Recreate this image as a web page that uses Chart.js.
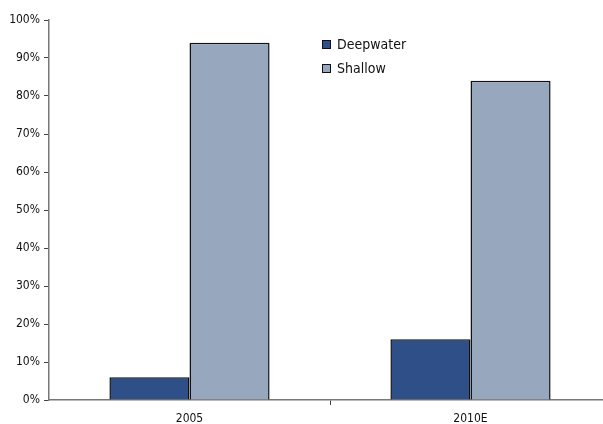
<!DOCTYPE html>
<html>
<head>
<meta charset="utf-8">
<script src="https://cdn.jsdelivr.net/npm/chart.js"></script>
<style>
  html,body{margin:0;padding:0;background:#fff;overflow:hidden}
  #wrap{position:relative;width:611px;height:424px}
  #legend{position:absolute;left:322px;top:32px;font:14px "DejaVu Sans Condensed","Liberation Sans Narrow",sans-serif;color:#111}
  #legend div{display:flex;align-items:center;height:24px}
  #legend span{display:inline-block;width:7px;height:7px;border:1.5px solid #111;margin-right:6px}
</style>
</head>
<body>
<div id="wrap">
  <canvas id="c" width="611" height="424"></canvas>
  <div id="legend"></div>
</div>
<script>
/* data */
const CATEGORIES = ['2005', '2010E'];
const SERIES     = ['Deepwater', 'Shallow'];
const DEEPWATER  = [6, 16];
const SHALLOW    = [94, 84];
const COLORS     = ['#2F4F89', '#97A7BE'];

const FONT = "'DejaVu Sans Condensed','Liberation Sans Narrow',sans-serif";

const chart = new Chart(document.getElementById('c'), {
  type: 'bar',
  data: {
    labels: CATEGORIES,
    datasets: [DEEPWATER, SHALLOW].map((d, i) => ({
      label: SERIES[i],
      data: d,
      backgroundColor: COLORS[i],
      borderColor: '#111',
      borderWidth: 1.5,
      categoryPercentage: 0.57,
      barPercentage: 1
    }))
  },
  options: {
    responsive: false,
    animation: false,
    layout: { padding: { top: 20, right: 0, left: 0, bottom: 0 } },
    plugins: { legend: { display: false }, tooltip: { enabled: false } },
    scales: {
      x: {
        grid: { drawOnChartArea: false, tickLength: 5,
                color: c => c.index === 1 ? '#444' : 'rgba(0,0,0,0)' },
        border: { color: '#777', width: 1.5 },
        ticks: { color: '#111', font: { family: FONT, size: 12 }, padding: 7 },
        afterFit: s => { s.height = 24; }
      },
      y: {
        min: 0, max: 100,
        grid: { drawOnChartArea: false, tickLength: 5, color: '#444' },
        border: { color: '#777', width: 1.5 },
        ticks: { stepSize: 10, color: '#111', font: { family: FONT, size: 12 }, padding: 4,
                 callback: v => v + '%' },
        afterFit: s => { s.width = 49; }
      }
    }
  }
});

/* legend inside plot, built from the series */
const leg = document.getElementById('legend');
SERIES.forEach((name, i) => {
  leg.insertAdjacentHTML('beforeend',
    `<div><span style="background:${COLORS[i]}"></span>${name}</div>`);
});
</script>
</body>
</html>
